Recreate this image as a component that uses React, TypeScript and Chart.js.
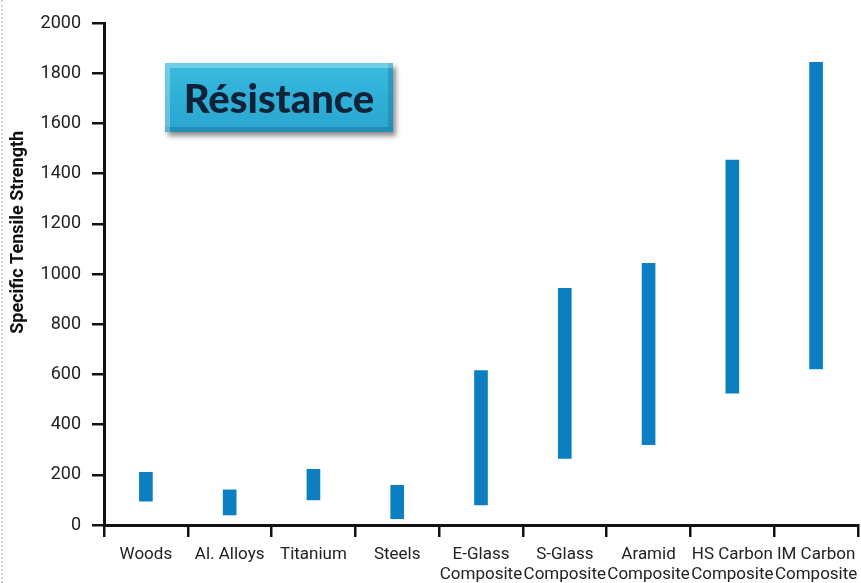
import React, { useEffect, useRef } from "react";
import { Chart, registerables } from "chart.js";

Chart.register(...registerables);

// Material categories (multi-line labels are arrays)
const materials: (string | string[])[] = [
  "Woods",
  "Al. Alloys",
  "Titanium",
  "Steels",
  ["E-Glass", "Composite"],
  ["S-Glass", "Composite"],
  ["Aramid", "Composite"],
  ["HS Carbon", "Composite"],
  ["IM Carbon", "Composite"],
];

// Specific tensile strength range per material
const strengthLow = [95, 40, 100, 25, 80, 265, 320, 525, 622];
const strengthHigh = [210, 140, 222, 158, 615, 943, 1043, 1454, 1843];

// Y axis tick values
const yTickValues = [0, 200, 400, 600, 800, 1000, 1200, 1400, 1600, 1800, 2000];

const yAxisTitle = "Specific Tensile Strength";

const FONT = "Roboto, 'Liberation Sans', sans-serif";

// Rotated y-axis title, placed a little above the middle of the plot area
const axisTitlePlugin = {
  id: "axisTitle",
  afterDraw(chart: any) {
    const { ctx, chartArea } = chart;
    const cy = chartArea.top + (chartArea.bottom - chartArea.top) * 0.417;
    ctx.save();
    ctx.translate(18, cy);
    ctx.rotate(-Math.PI / 2);
    ctx.font = `bold 18px ${FONT}`;
    ctx.fillStyle = "#111";
    ctx.textAlign = "center";
    ctx.textBaseline = "middle";
    ctx.fillText(yAxisTitle, 0, 0);
    ctx.restore();
  },
};

export default function App() {
  const canvasRef = useRef<HTMLCanvasElement | null>(null);

  useEffect(() => {
    document.body.style.margin = "0";
    const ctx = canvasRef.current;
    if (!ctx) return;
    const ranges = strengthLow.map((lo, i) => [lo, strengthHigh[i]]);
    const chart = new Chart(ctx, {
      type: "bar",
      data: {
        labels: materials,
        datasets: [
          {
            data: ranges as any,
            backgroundColor: "#0b7fc1",
            borderWidth: 0,
            barThickness: 13,
          },
        ],
      },
      plugins: [axisTitlePlugin],
      options: {
        animation: false,
        responsive: false,
        maintainAspectRatio: false,
        layout: { padding: { top: 23, right: 3, left: 0, bottom: 0 } },
        plugins: {
          legend: { display: false },
          tooltip: { enabled: false },
        },
        scales: {
          x: {
            grid: {
              display: true,
              drawOnChartArea: false,
              drawTicks: true,
              tickLength: 12,
              color: "#111",
              lineWidth: 2.5,
            },
            border: { display: true, color: "#111", width: 3 },
            ticks: {
              color: "#222",
              padding: 8,
              maxRotation: 0,
              autoSkip: false,
              font: { family: FONT, size: 17, lineHeight: "20px" },
            },
            afterFit: (s: any) => {
              s.height = 58;
              s.paddingLeft = 0;
              s.paddingRight = 0;
            },
          },
          y: {
            min: 0,
            max: 2000,
            grid: {
              display: true,
              drawOnChartArea: false,
              drawTicks: true,
              tickLength: 12,
              color: "#111",
              lineWidth: 2.5,
            },
            border: { display: true, color: "#111", width: 3 },
            ticks: {
              color: "#222",
              padding: 11,
              font: { family: FONT, size: 18 },
              callback: (v: any) => String(v),
            },
            afterBuildTicks: (s: any) => {
              s.ticks = yTickValues.map((v) => ({ value: v }));
            },
            afterFit: (s: any) => {
              s.width = 104;
            },
          },
        },
      },
    });
    return () => chart.destroy();
  }, []);

  return (
    <div style={{ position: "relative", width: 861, height: 583, background: "#fff", overflow: "hidden" }}>
      <div
        style={{
          position: "absolute",
          left: 1,
          top: 0,
          height: 583,
          borderLeft: "2px dotted #d4d4d4",
        }}
      />
      <canvas ref={canvasRef} width={861} height={583} style={{ display: "block" }} />
      <div
        style={{
          position: "absolute",
          left: 165,
          top: 63,
          width: 228,
          height: 69,
          boxSizing: "border-box",
          background: "linear-gradient(180deg, #3cbbe0 0%, #2fafd7 50%, #2aa6cf 100%)",
          boxShadow:
            "inset 5px 5px 0 rgba(255,255,255,0.28), inset -5px -5px 0 rgba(0,40,80,0.18), 3px 4px 5px rgba(0,0,0,0.45)",
          display: "flex",
          alignItems: "center",
          justifyContent: "center",
          fontFamily: "Lato, 'Open Sans', sans-serif",
          fontWeight: 900,
          fontSize: 40,
          color: "#0e2238",
          letterSpacing: 0,
        }}
      >
        Résistance
      </div>
    </div>
  );
}
